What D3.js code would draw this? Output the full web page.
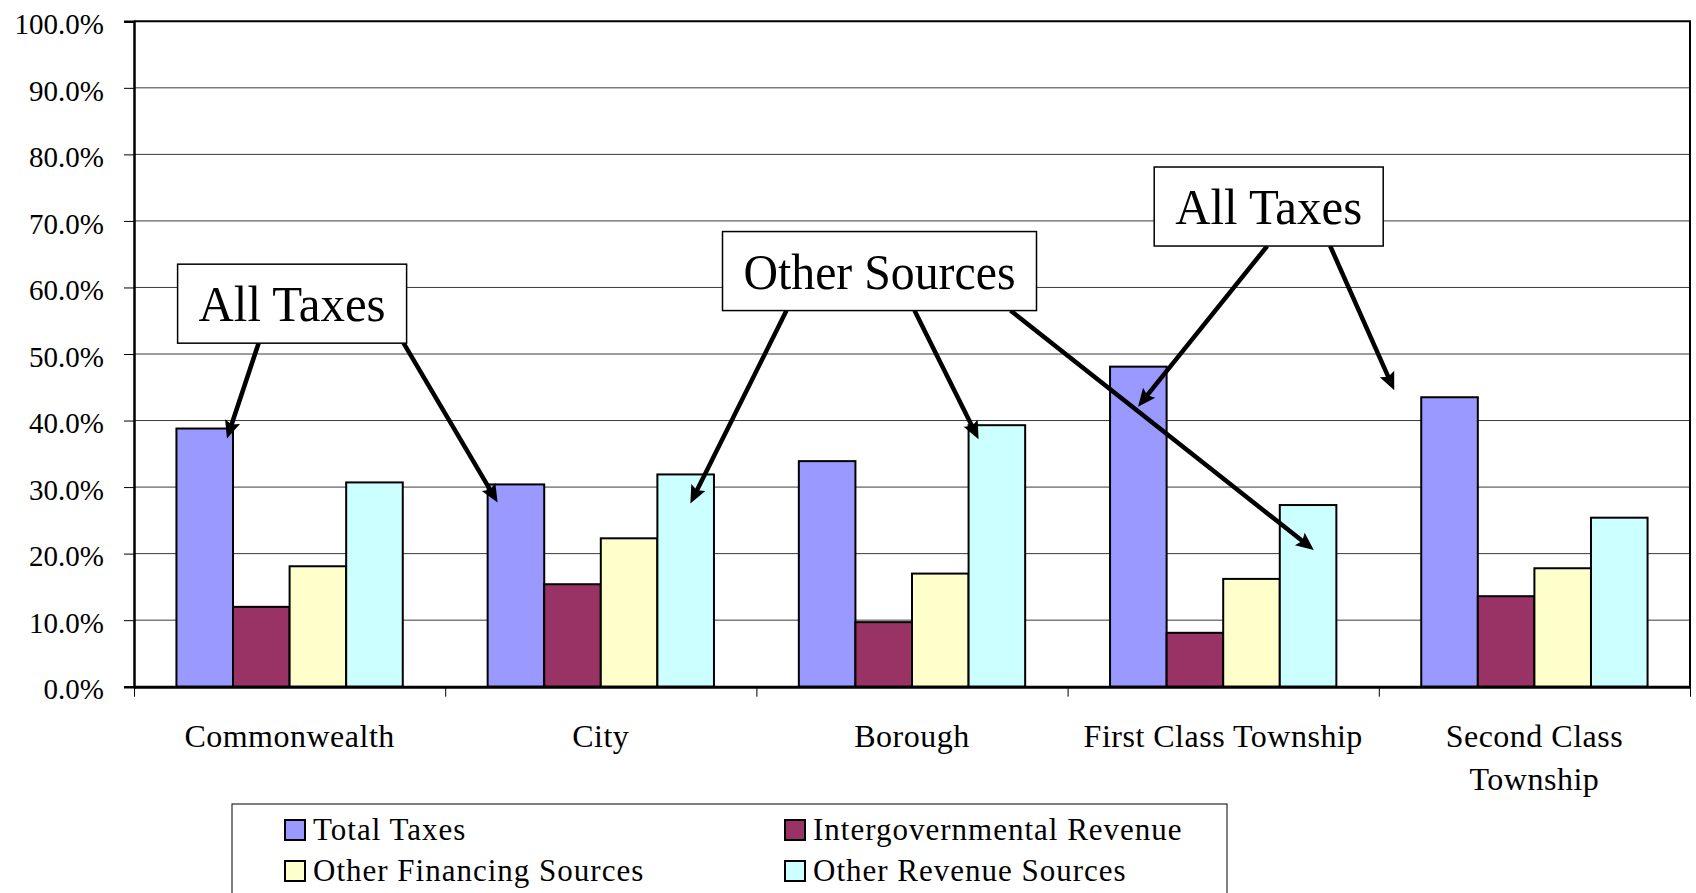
<!DOCTYPE html>
<html>
<head>
<meta charset="utf-8">
<script src="https://cdn.jsdelivr.net/npm/d3@7"></script>
<style>
  body { margin: 0; background: #fff; }
  svg text { font-family: 'Liberation Serif', 'Times New Roman', serif; fill: #000; }
</style>
</head>
<body>
<script>
// categories and series
let categories = ['Commonwealth', 'City', 'Borough', 'First Class Township', 'Second Class Township']
let catLabels = [['Commonwealth'], ['City'], ['Borough'], ['First Class Township'], ['Second Class', 'Township']]
let series = ['Total Taxes', 'Intergovernmental Revenue', 'Other Financing Sources', 'Other Revenue Sources']

// values in percent, one array per series
let totalTaxes = [38.8, 30.4, 33.9, 48.1, 43.5]
let intergovRevenue = [12.0, 15.4, 9.7, 8.1, 13.6]
let otherFinancing = [18.1, 22.3, 17.0, 16.2, 17.8]
let otherRevenue = [30.7, 31.9, 39.3, 27.3, 25.4]

let yTicks = [0, 10, 20, 30, 40, 50, 60, 70, 80, 90, 100]

let colors = ['#9999FF', '#993366', '#FFFFCC', '#CCFFFF']
let values = [totalTaxes, intergovRevenue, otherFinancing, otherRevenue]

let SERIF = 'Liberation Serif'

// callouts: box anchored on a category, arrows pointing at bars
let callouts = [
	{text: 'All Taxes', at: 'Commonwealth', dx: 2.5, top: 63.5, w: 229, h: 79, tw: 187,
		arrows: [{from: 81, cat: 'Commonwealth', s: 0, dx: 50.5, dy: 10},
		         {from: 226, cat: 'City', s: 0, dx: 10, dy: 18}]},
	{text: 'Other Sources', at: 'Borough', dx: -32.5, top: 68.4, w: 314, h: 79, tw: 272,
		arrows: [{from: 64, cat: 'City', s: 3, dx: 33, dy: 29},
		         {from: 192, cat: 'Borough', s: 3, dx: 10, dy: 14},
		         {from: 288, cat: 'First Class Township', s: 3, dx: 34, dy: 45}]},
	{text: 'All Taxes', at: 'First Class Township', dx: 45.5, top: 78.1, w: 229, h: 79, tw: 187,
		arrows: [{from: 113, cat: 'First Class Township', s: 0, dx: 28, dy: 40},
		         {from: 176, cat: 'Second Class Township', s: 0, dx: -27, dy: -7}]}
]

let W = 1696, H = 893
let m = {left: 134, right: 1690, top: 21.3, bottom: 686.7}

let svg = d3.select('body').append('svg').attr('width', W).attr('height', H)
	.attr('font-family', SERIF)

let x0 = d3.scaleBand().domain(categories).range([m.left, m.right]).padding(0)
let bw = x0.bandwidth()
let x1 = d3.scaleBand().domain(series).range([bw * 0.75 / 5.5, bw - bw * 0.75 / 5.5]).padding(0)
let y = d3.scaleLinear().domain([0, 100]).range([m.bottom, m.top])

// gridlines
svg.append('g').selectAll('line').data(yTicks.slice(1, -1)).join('line')
	.attr('x1', m.left).attr('x2', m.right)
	.attr('y1', d => y(d)).attr('y2', d => y(d))
	.attr('stroke', '#3a3a3a').attr('stroke-width', 1)

// top and right frame
svg.append('path')
	.attr('d', `M${m.left},${y(100)}H${m.right}V${m.bottom}`)
	.attr('fill', 'none').attr('stroke', '#000').attr('stroke-width', 2)

// bars
let groups = svg.append('g').selectAll('g').data(categories).join('g')
	.attr('transform', d => `translate(${x0(d)},0)`)
groups.selectAll('rect').data((c, i) => series.map((s, j) => ({s: s, j: j, v: values[j][i]}))).join('rect')
	.attr('x', d => x1(d.s)).attr('width', x1.bandwidth())
	.attr('y', d => y(d.v)).attr('height', d => y(0) - y(d.v))
	.attr('fill', d => colors[d.j]).attr('stroke', '#000').attr('stroke-width', 2)

// y axis
let yAxis = svg.append('g').attr('transform', `translate(${m.left},0)`)
	.call(d3.axisLeft(y).tickValues(yTicks).tickFormat(d => d3.format('.1f')(d) + '%').tickSize(10).tickPadding(20))
yAxis.attr('font-family', SERIF).attr('font-size', 29)
yAxis.select('.domain').attr('stroke-width', 2.5)
yAxis.selectAll('.tick line').attr('stroke-width', 1)
yAxis.selectAll('text').attr('dy', '0.42em').attr('font-family', SERIF).attr('font-size', 29)

// x axis, ticks at band edges
let edges = d3.scaleLinear().domain([0, categories.length]).range([m.left, m.right])
let xAxis = svg.append('g').attr('transform', `translate(0,${m.bottom})`)
	.call(d3.axisBottom(edges).tickValues(d3.range(categories.length + 1)).tickFormat('').tickSize(10).tickSizeOuter(0))
xAxis.select('.domain').attr('stroke-width', 3)
xAxis.selectAll('.tick line').attr('stroke-width', 1)

svg.append('g').selectAll('text').data(categories).join('text')
	.attr('x', d => x0(d) + bw / 2).attr('y', m.bottom + 60)
	.attr('text-anchor', 'middle').attr('font-size', 32).attr('font-family', SERIF)
	.attr('letter-spacing', 0.5)
	.selectAll('tspan').data((d, i) => catLabels[i]).join('tspan')
	.attr('x', function() { return d3.select(this.parentNode).attr('x') })
	.attr('dy', (d, i) => i === 0 ? 0 : 43.5)
	.text(d => d)

// callouts
svg.append('defs').append('marker').attr('id', 'head')
	.attr('markerUnits', 'userSpaceOnUse').attr('markerWidth', 22).attr('markerHeight', 20)
	.attr('viewBox', '-19 -9 21 18').attr('refX', 0).attr('refY', 0).attr('orient', 'auto')
	.append('path').attr('d', 'M0,0L-17,-7.5L-14,0L-17,7.5Z').attr('fill', '#000')

callouts.forEach(c => {
	let bx = x0(c.at) + bw / 2 + c.dx - c.w / 2
	let by = y(c.top)
	let g = svg.append('g')
	c.arrows.forEach(a => {
		let sx = bx + a.from, sy = by + c.h
		let tx = x0(a.cat) + x1(series[a.s]) + a.dx
		let ty = y(values[a.s][categories.indexOf(a.cat)]) + a.dy
		let len = Math.hypot(tx - sx, ty - sy)
		let k = (len - 10) / len
		g.append('line')
			.attr('x1', sx).attr('y1', sy)
			.attr('x2', sx + (tx - sx) * k).attr('y2', sy + (ty - sy) * k)
			.attr('stroke', '#000').attr('stroke-width', 4.5)
		g.append('line')
			.attr('x1', sx + (tx - sx) * k).attr('y1', sy + (ty - sy) * k)
			.attr('x2', tx).attr('y2', ty)
			.attr('stroke', 'none').attr('marker-end', 'url(#head)')
	})
	g.append('rect').attr('x', bx).attr('y', by).attr('width', c.w).attr('height', c.h)
		.attr('fill', '#fff').attr('stroke', '#000').attr('stroke-width', 1.5)
	g.append('text').attr('x', bx + c.w / 2).attr('y', by + c.h / 2 + 17.5)
		.attr('text-anchor', 'middle').attr('font-size', 50).attr('font-family', SERIF)
		.attr('textLength', c.tw).attr('lengthAdjust', 'spacingAndGlyphs')
		.text(c.text)
})

// legend
let legend = svg.append('g')
legend.append('rect').attr('x', 232).attr('y', 804).attr('width', 995).attr('height', 120)
	.attr('fill', '#fff').attr('stroke', '#000').attr('stroke-width', 1)
let items = legend.selectAll('g.item').data(series).join('g').attr('class', 'item')
	.attr('transform', (d, i) => `translate(${285 + (i % 2) * 500},${820 + Math.floor(i / 2) * 41})`)
items.append('rect').attr('width', 20).attr('height', 20)
	.attr('fill', (d, i) => colors[i]).attr('stroke', '#000').attr('stroke-width', 2)
items.append('text').attr('x', 28).attr('y', 19.5).attr('font-size', 31).attr('font-family', SERIF)
	.attr('letter-spacing', 1).text(d => d)
</script>
</body>
</html>
